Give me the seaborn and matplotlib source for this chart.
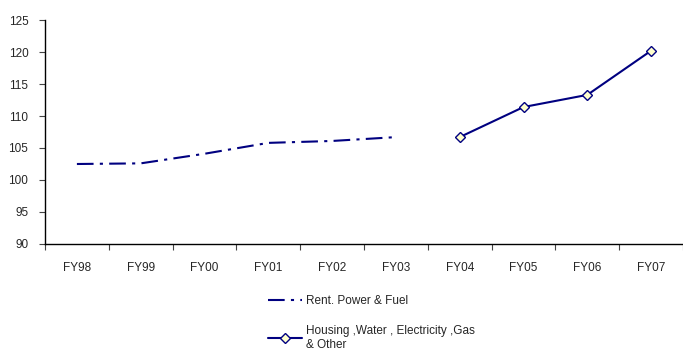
import matplotlib
matplotlib.use("Agg")
import matplotlib.pyplot as plt
import seaborn as sns
import pandas as pd
import numpy as np
from matplotlib.ticker import FixedLocator

categories = ["FY98", "FY99", "FY00", "FY01", "FY02", "FY03", "FY04", "FY05", "FY06", "FY07"]
rent_years = ["FY98", "FY99", "FY00", "FY01", "FY02", "FY03"]
rent_values = [102.5, 102.6, 104.1, 105.8, 106.1, 106.7]
housing_years = ["FY04", "FY05", "FY06", "FY07"]
housing_values = [106.7, 111.4, 113.3, 120.2]
y_ticks = [90, 95, 100, 105, 110, 115, 120, 125]

sns.set_style("white")
plt.rcParams['font.family'] = ['Liberation Sans', 'DejaVu Sans']

navy = "#000080"
fig = plt.figure(figsize=(6.83, 3.51), dpi=100)
ax = fig.add_axes([45/683, 1-244/351, 1 - 45/683, (244-20)/351])

pos = {c: i for i, c in enumerate(categories)}
df_r = pd.DataFrame({"x": [pos[c] for c in rent_years], "y": rent_values})
df_h = pd.DataFrame({"x": [pos[c] for c in housing_years], "y": housing_values})

sns.lineplot(data=df_r, x="x", y="y", ax=ax, color=navy, linewidth=1.5,
             linestyle=(0, (8, 3, 1.5, 3)), label="Rent. Power & Fuel")
sns.lineplot(data=df_h, x="x", y="y", ax=ax, color=navy, linewidth=1.5,
             marker="D", markersize=5, markerfacecolor="#FFFFCC", markeredgecolor=navy,
             markeredgewidth=1, label="Housing ,Water , Electricity ,Gas\n& Other")

ax.set_xlim(-0.5, 9.5)
ax.set_ylim(90, 125)
ax.set_yticks(y_ticks)
ax.set_yticklabels([str(v) for v in y_ticks], fontsize=8.5)
ax.set_xticks(range(len(categories)))
ax.set_xticklabels(categories, fontsize=8.5)
ax.tick_params(axis="x", which="major", bottom=True, length=0, pad=13)
ax.xaxis.set_minor_locator(FixedLocator(np.arange(-0.5, 10, 1.0)))
ax.tick_params(axis="x", which="minor", bottom=True, length=4, width=0.8, color="#444444", direction="out")
ax.tick_params(axis="y", left=True, length=4, width=0.8, color="#444444", direction="out", pad=8)
ax.set_xlabel("")
ax.set_ylabel("")
for s in ["top", "right"]:
    ax.spines[s].set_visible(False)
for s in ["left", "bottom"]:
    ax.spines[s].set_color("black")
    ax.spines[s].set_linewidth(1.0)

handles, labels = ax.get_legend_handles_labels()
ax.legend_.remove()
fig.legend(handles, labels, loc="upper left", bbox_to_anchor=(268/683, 1 - 295/351),
           frameon=False, fontsize=8.5, handlelength=2.9, labelspacing=1.5, handletextpad=0.3,
           borderaxespad=0, borderpad=0)

fig.savefig("out.png", dpi=100)
